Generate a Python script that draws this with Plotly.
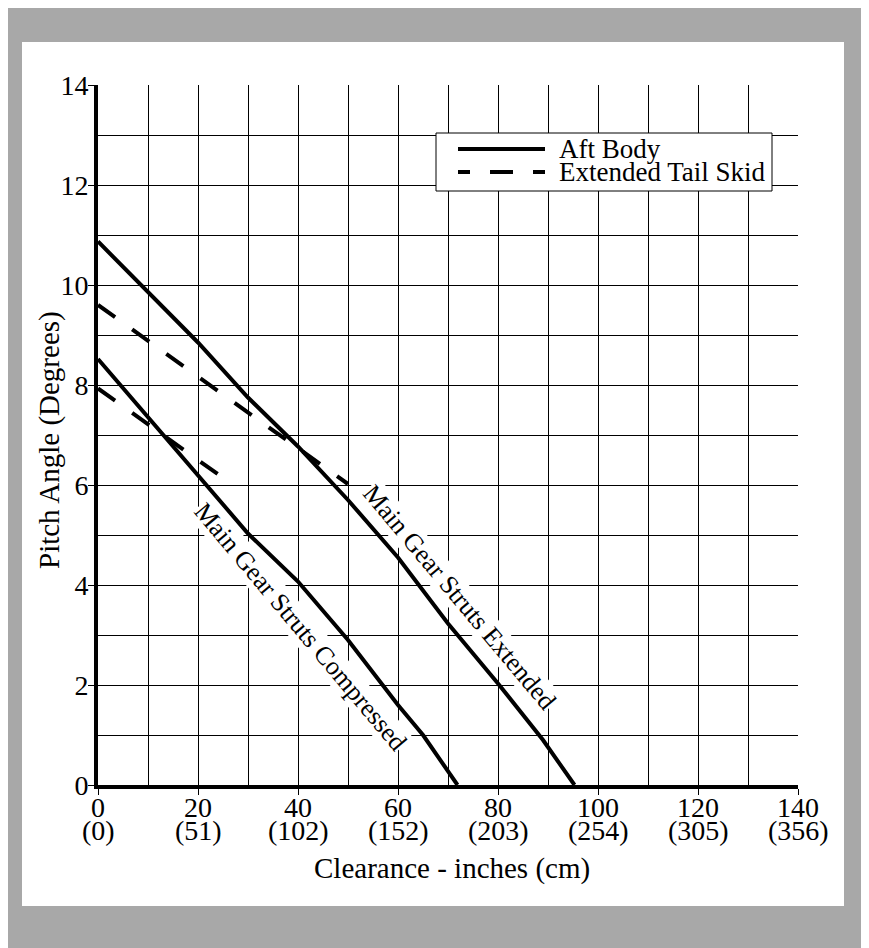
import plotly.graph_objects as go

# ---- data ----
clearance_ext_solid = [0, 10, 20, 30, 40, 50, 60, 70, 80, 89, 95.3]
pitch_ext_solid = [10.87, 9.87, 8.85, 7.75, 6.77, 5.7, 4.55, 3.23, 2.03, 0.9, 0]

clearance_cmp_solid = [0, 10, 20, 30, 40, 46.4, 50, 60, 65, 71.9]
pitch_cmp_solid = [8.52, 7.35, 6.2, 5.03, 4.07, 3.33, 2.9, 1.6, 1.0, 0]

clearance_ext_dash = [0, 50]
pitch_ext_dash = [9.6, 6.02]

clearance_cmp_dash = [0, 27]
pitch_cmp_dash = [7.93, 6.0]

x_tick_vals = [0, 20, 40, 60, 80, 100, 120, 140]
x_tick_inch = ["0", "20", "40", "60", "80", "100", "120", "140"]
x_tick_cm = ["(0)", "(51)", "(102)", "(152)", "(203)", "(254)", "(305)", "(356)"]
y_tick_vals = [0, 2, 4, 6, 8, 10, 12, 14]

legend_names = ["Aft Body", "Extended Tail Skid"]

FONT = "Liberation Serif"
LW = 4
DASH = "21px,21px"

fig = go.Figure()
fig.add_trace(go.Scatter(x=clearance_ext_solid, y=pitch_ext_solid, mode="lines",
                         name=legend_names[0], showlegend=False,
                         line=dict(color="black", width=LW)))
fig.add_trace(go.Scatter(x=clearance_cmp_solid, y=pitch_cmp_solid, mode="lines",
                         name=legend_names[0], showlegend=False,
                         line=dict(color="black", width=LW)))
fig.add_trace(go.Scatter(x=clearance_ext_dash, y=pitch_ext_dash, mode="lines",
                         name=legend_names[1], showlegend=False,
                         line=dict(color="black", width=LW, dash=DASH)))
fig.add_trace(go.Scatter(x=clearance_cmp_dash, y=pitch_cmp_dash, mode="lines",
                         name=legend_names[1], showlegend=False,
                         line=dict(color="black", width=LW, dash=DASH)))

# page offset (browser body margin) compensation: figure starts at screen (8, 8)
OFF = 8
SW, SH = 869, 948
L, T, W, H = 98, 85, 700, 700          # plot area in screen pixels
def px(x):
    return (x - L) / W
def py(y):
    return (T + H - y) / H

shapes = [
    dict(type="rect", xref="paper", yref="paper", x0=px(0), x1=px(869), y0=py(948), y1=py(0),
         fillcolor="#a8a8a8", line=dict(width=0), layer="below"),
    dict(type="rect", xref="paper", yref="paper", x0=px(22), x1=px(844), y0=py(906), y1=py(42),
         fillcolor="white", line=dict(width=0), layer="below"),
    # legend box
    dict(type="rect", xref="paper", yref="paper", x0=px(436), x1=px(772), y0=py(191), y1=py(133),
         fillcolor="white", line=dict(color="black", width=1)),
    dict(type="line", xref="paper", yref="paper", x0=px(458), x1=px(545), y0=py(149), y1=py(149),
         line=dict(color="black", width=LW)),
    dict(type="line", xref="paper", yref="paper", x0=px(458), x1=px(545), y0=py(172), y1=py(172),
         line=dict(color="black", width=LW, dash="12px,20px,23px,20px,12px,200px")),
]

annotations = []
for v, t1, t2 in zip(x_tick_vals, x_tick_inch, x_tick_cm):
    annotations.append(dict(x=v, y=py(807), xref="x", yref="paper", text=t1, showarrow=False,
                            font=dict(family=FONT, size=28, color="black"),
                            xanchor="center", yanchor="middle"))
    annotations.append(dict(x=v, y=py(831), xref="x", yref="paper", text=t2, showarrow=False,
                            font=dict(family=FONT, size=28, color="black"),
                            xanchor="center", yanchor="middle"))

annotations.append(dict(x=px(452), y=py(868), xref="paper", yref="paper",
                        text="Clearance - inches (cm)", showarrow=False,
                        font=dict(family=FONT, size=29, color="black"),
                        xanchor="center", yanchor="middle"))
annotations.append(dict(x=px(49), y=py(440), xref="paper", yref="paper",
                        text="Pitch Angle (Degrees)", showarrow=False, textangle=-90,
                        font=dict(family=FONT, size=29, color="black"),
                        xanchor="center", yanchor="middle"))

for name, yy in zip(legend_names, [149, 172]):
    annotations.append(dict(x=px(557), y=py(yy), xref="paper", yref="paper", text=name,
                            showarrow=False, xanchor="left", yanchor="middle",
                            font=dict(family=FONT, size=27, color="black")))

annotations.append(dict(x=72.4, y=3.76, xref="x", yref="y", text="Main Gear Struts Extended",
                        showarrow=False, textangle=50, bgcolor="white", borderpad=0,
                        font=dict(family=FONT, size=26, color="black")))
annotations.append(dict(x=40.5, y=3.18, xref="x", yref="y", text="Main Gear Struts Compressed",
                        showarrow=False, textangle=50, bgcolor="white", borderpad=0,
                        font=dict(family=FONT, size=26, color="black")))

fig.update_layout(
    width=SW - OFF, height=SH - OFF,
    margin=dict(l=L - OFF, r=SW - L - W, t=T - OFF, b=SH - T - H),
    paper_bgcolor="white", plot_bgcolor="rgba(0,0,0,0)",
    font=dict(family=FONT, size=28, color="black"),
    showlegend=False,
    shapes=shapes, annotations=annotations,
    xaxis=dict(range=[0, 140], tickmode="array", tickvals=x_tick_vals, showticklabels=False,
               showgrid=True, gridcolor="black", gridwidth=1, zeroline=False,
               showline=True, linecolor="black", linewidth=4,
               ticks="outside", ticklen=6, tickwidth=1, tickcolor="black",
               minor=dict(dtick=10, showgrid=True, gridcolor="black", gridwidth=1, ticklen=0)),
    yaxis=dict(range=[0, 14], tickmode="array", tickvals=y_tick_vals,
               tickfont=dict(family=FONT, size=28, color="black"),
               ticklabelstandoff=-6,
               showgrid=True, gridcolor="black", gridwidth=1, zeroline=False,
               showline=True, linecolor="black", linewidth=4,
               ticks="outside", ticklen=6, tickwidth=1, tickcolor="black",
               minor=dict(dtick=1, showgrid=True, gridcolor="black", gridwidth=1, ticklen=0)),
)

fig.write_html("out.html")
